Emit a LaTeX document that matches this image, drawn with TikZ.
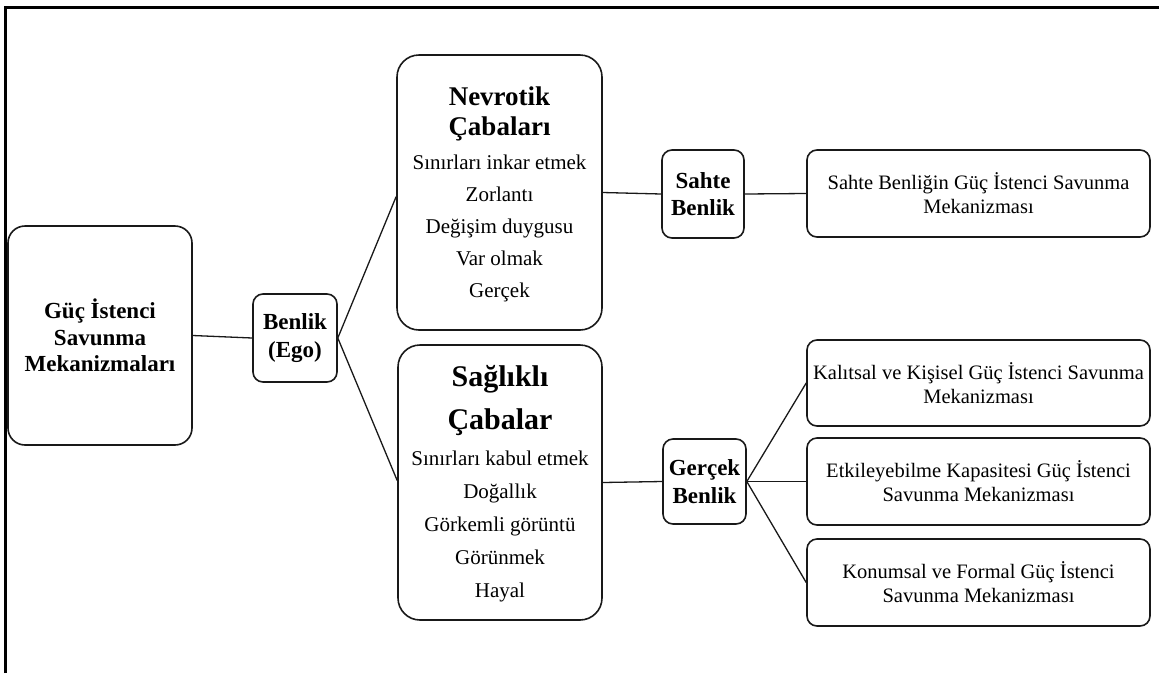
\documentclass[tikz,border=0pt]{standalone}
\usepackage{fontspec}
\setmainfont{Liberation Serif}
\begin{document}
\begin{tikzpicture}[x=1pt,y=-1pt,
  box/.style={draw=black!90, line width=1.6pt, rounded corners=10pt, inner sep=0pt, align=center},
  titlebox/.style={box, font=\fontsize{23}{26.5}\selectfont\bfseries},
  smallbox/.style={box, font=\fontsize{23}{27.5}\selectfont\bfseries},
  bigbox/.style={box, rounded corners=22pt, font=\fontsize{21}{32}\selectfont},
  leafbox/.style={box, font=\fontsize{20.5}{24}\selectfont},
  conn/.style={draw=black!90, line width=1.3pt},
  frame/.style={draw=black, line width=3pt}
]
\useasboundingbox (0,0) rectangle (1159,673);
\draw[frame] (5,673) -- (5,7) -- (1159,7);

\node[titlebox, rounded corners=17pt, minimum width=184pt, minimum height=219pt] (main) at (100,335.5)
  {Güç İstenci\\Savunma\\Mekanizmaları};
\node[smallbox, minimum width=84pt, minimum height=88pt] (ego) at (295,338)
  {Benlik\\(Ego)};
\node[bigbox, minimum width=205pt, minimum height=275pt] (nev) at (499.5,192.5)
  {\begin{tabular}{@{}c@{}}
   \rule{0pt}{27.8pt}{\fontsize{27}{30}\selectfont\bfseries Nevrotik}\\[-2pt]
   {\fontsize{27}{30}\selectfont\bfseries Çabaları}\\[2pt]
   Sınırları inkar etmek\\
   Zorlantı\\
   Değişim duygusu\\
   Var olmak\\
   Gerçek
   \end{tabular}};
\node[bigbox, minimum width=204pt, minimum height=275pt] (sag) at (500,482.5)
  {\begin{tabular}{@{}c@{}}
   \rule{0pt}{29pt}{\fontsize{30}{30}\selectfont\bfseries Sağlıklı}\\[11pt]
   {\fontsize{30}{30}\selectfont\bfseries Çabalar}\\[4pt]
   Sınırları kabul etmek\\[1pt]
   Doğallık\\[1pt]
   Görkemli görüntü\\[1pt]
   Görünmek\\[1pt]
   Hayal
   \end{tabular}};
\node[smallbox, minimum width=82pt, minimum height=88pt] (sahte) at (703,194)
  {Sahte\\Benlik};
\node[smallbox, minimum width=83pt, minimum height=85pt] (gercek) at (704.5,481.5)
  {Gerçek\\Benlik};
\node[leafbox, minimum width=343pt, minimum height=87pt] (sbox) at (978.5,193.5)
  {Sahte Benliğin Güç İstenci Savunma\\Mekanizması};
\node[leafbox, minimum width=343pt, minimum height=86pt] (kal) at (978.5,383)
  {Kalıtsal ve Kişisel Güç İstenci Savunma\\Mekanizması};
\node[leafbox, minimum width=343pt, minimum height=87pt] (etk) at (978.5,481.5)
  {Etkileyebilme Kapasitesi Güç İstenci\\Savunma Mekanizması};
\node[leafbox, minimum width=343pt, minimum height=87pt] (kon) at (978.5,582.5)
  {Konumsal ve Formal Güç İstenci\\Savunma Mekanizması};

\draw[conn] (main.east) -- (ego.west);
\draw[conn] (ego.east) -- ([yshift=-4pt]nev.west);
\draw[conn] (ego.east) -- ([yshift=2pt]sag.west);
\draw[conn] (nev.east) -- (sahte.west);
\draw[conn] (sahte.east) -- (sbox.west);
\draw[conn] (sag.east) -- (gercek.west);
\draw[conn] (gercek.east) -- (kal.west);
\draw[conn] (gercek.east) -- (etk.west);
\draw[conn] (gercek.east) -- (kon.west);
\end{tikzpicture}
\end{document}
